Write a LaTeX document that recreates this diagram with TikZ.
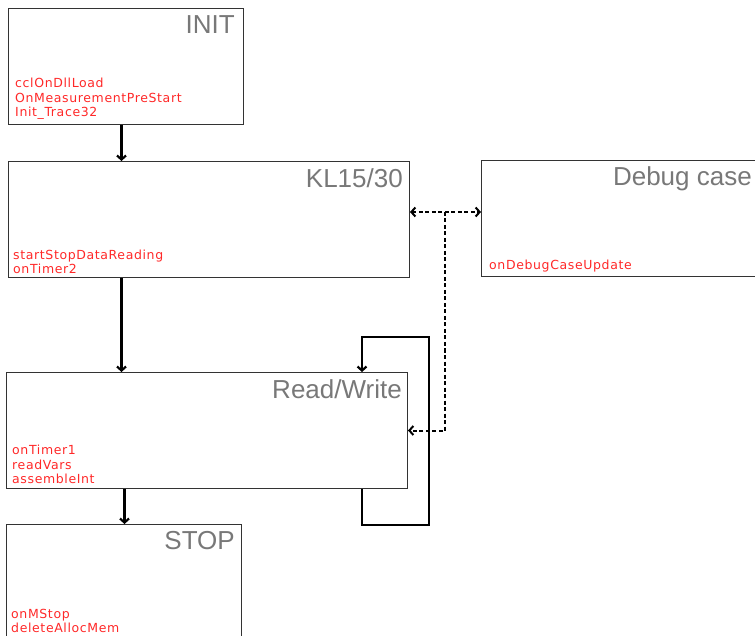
\documentclass[tikz,border=0pt]{standalone}
\usepackage{fontspec}
\usepackage{xcolor}
\usetikzlibrary{positioning,arrows.meta}
\newfontfamily\titlefont{Liberation Sans}
\newfontfamily\callfont[LetterSpace=5]{DejaVu Sans}
\definecolor{titlegray}{RGB}{120,120,120}
\definecolor{callred}{RGB}{255,40,40}

\begin{document}
\begin{tikzpicture}[
    x=1pt, y=-1pt,
    state/.style={draw=black!80, line width=1pt, anchor=north west, inner sep=0pt,
                  minimum height=116pt},
    title/.style={anchor=north east, inner sep=0pt, text=titlegray,
                  font=\titlefont\fontsize{26}{30}\selectfont},
    calls/.style={anchor=south west, inner sep=0pt, align=left, text=callred,
                  font=\callfont\fontsize{12.5}{14.5}\selectfont},
    flow/.style={-{Straight Barb[length=4pt,width=9pt]}, line width=2.2pt},
    dflow/.style={-{Straight Barb[length=4pt,width=9pt]}, line width=2pt,
                  dash pattern=on 4pt off 2.5pt}
]
\useasboundingbox (0,0) rectangle (755,636);
\clip (0,0) rectangle (755,636);

% states
\node[state, minimum width=235pt] (init) at (8,8) {};
\node[state, minimum width=401pt] (kl) at (8,161) {};
\node[state, minimum width=284pt] (dbg) at (481,160) {};
\node[state, minimum width=401pt] (rw) at (6,372) {};
\node[state, minimum width=235pt] (stop) at (6,524) {};

% titles
\node[title] (initT) at ([xshift=-9pt,yshift=-7pt]init.north east) {INIT};
\node[title] (klT) at ([xshift=-7pt,yshift=-7pt]kl.north east) {KL15/30};
\node[title] (dbgT) at ([xshift=-14pt,yshift=-6pt]dbg.north east) {Debug case};
\node[title] (rwT) at ([xshift=-6pt,yshift=-7pt]rw.north east) {Read/Write};
\node[title] (stopT) at ([xshift=-7pt,yshift=-7pt]stop.north east) {STOP};

% callbacks
\node[calls] (initC) at ([xshift=7pt,yshift=5pt]init.south west) {cclOnDllLoad\\OnMeasurementPreStart\\Init\_Trace32};
\node[calls] (klC) at ([xshift=5pt,yshift=4pt]kl.south west) {startStopDataReading\\onTimer2};
\node[calls] (dbgC) at ([xshift=8pt,yshift=5pt]dbg.south west) {onDebugCaseUpdate};
\node[calls] (rwC) at ([xshift=6pt,yshift=5pt]rw.south west) {onTimer1\\readVars\\assembleInt};
\node[calls] (stopC) at ([xshift=5pt,yshift=8pt]stop.south west) {onMStop\\deleteAllocMem};

% transitions
\draw[flow] ([xshift=-4.5pt]init.south) -- ([xshift=-4.5pt]init.south |- kl.north);
\draw[flow] ([xshift=-87.5pt]kl.south) -- ([xshift=-87.5pt]kl.south |- rw.north);
\draw[flow] ([xshift=-82.5pt]rw.south) -- ([xshift=-82.5pt]rw.south |- stop.north);
\draw[flow] ([xshift=-46pt]rw.south east) -- ++(0,36) -- ++(67,0) -- ++(0,-188)
    -- ++(-67,0) -- ([xshift=-46pt]rw.north east);

% debug links
\coordinate (jn) at (445,212);
\draw[dflow, {Straight Barb[length=4pt,width=9pt]}-{Straight Barb[length=4pt,width=9pt]}]
    (kl.east |- jn) -- (dbg.west |- jn);
\draw[dflow] (jn) |- (rw.east);
\end{tikzpicture}
\end{document}
